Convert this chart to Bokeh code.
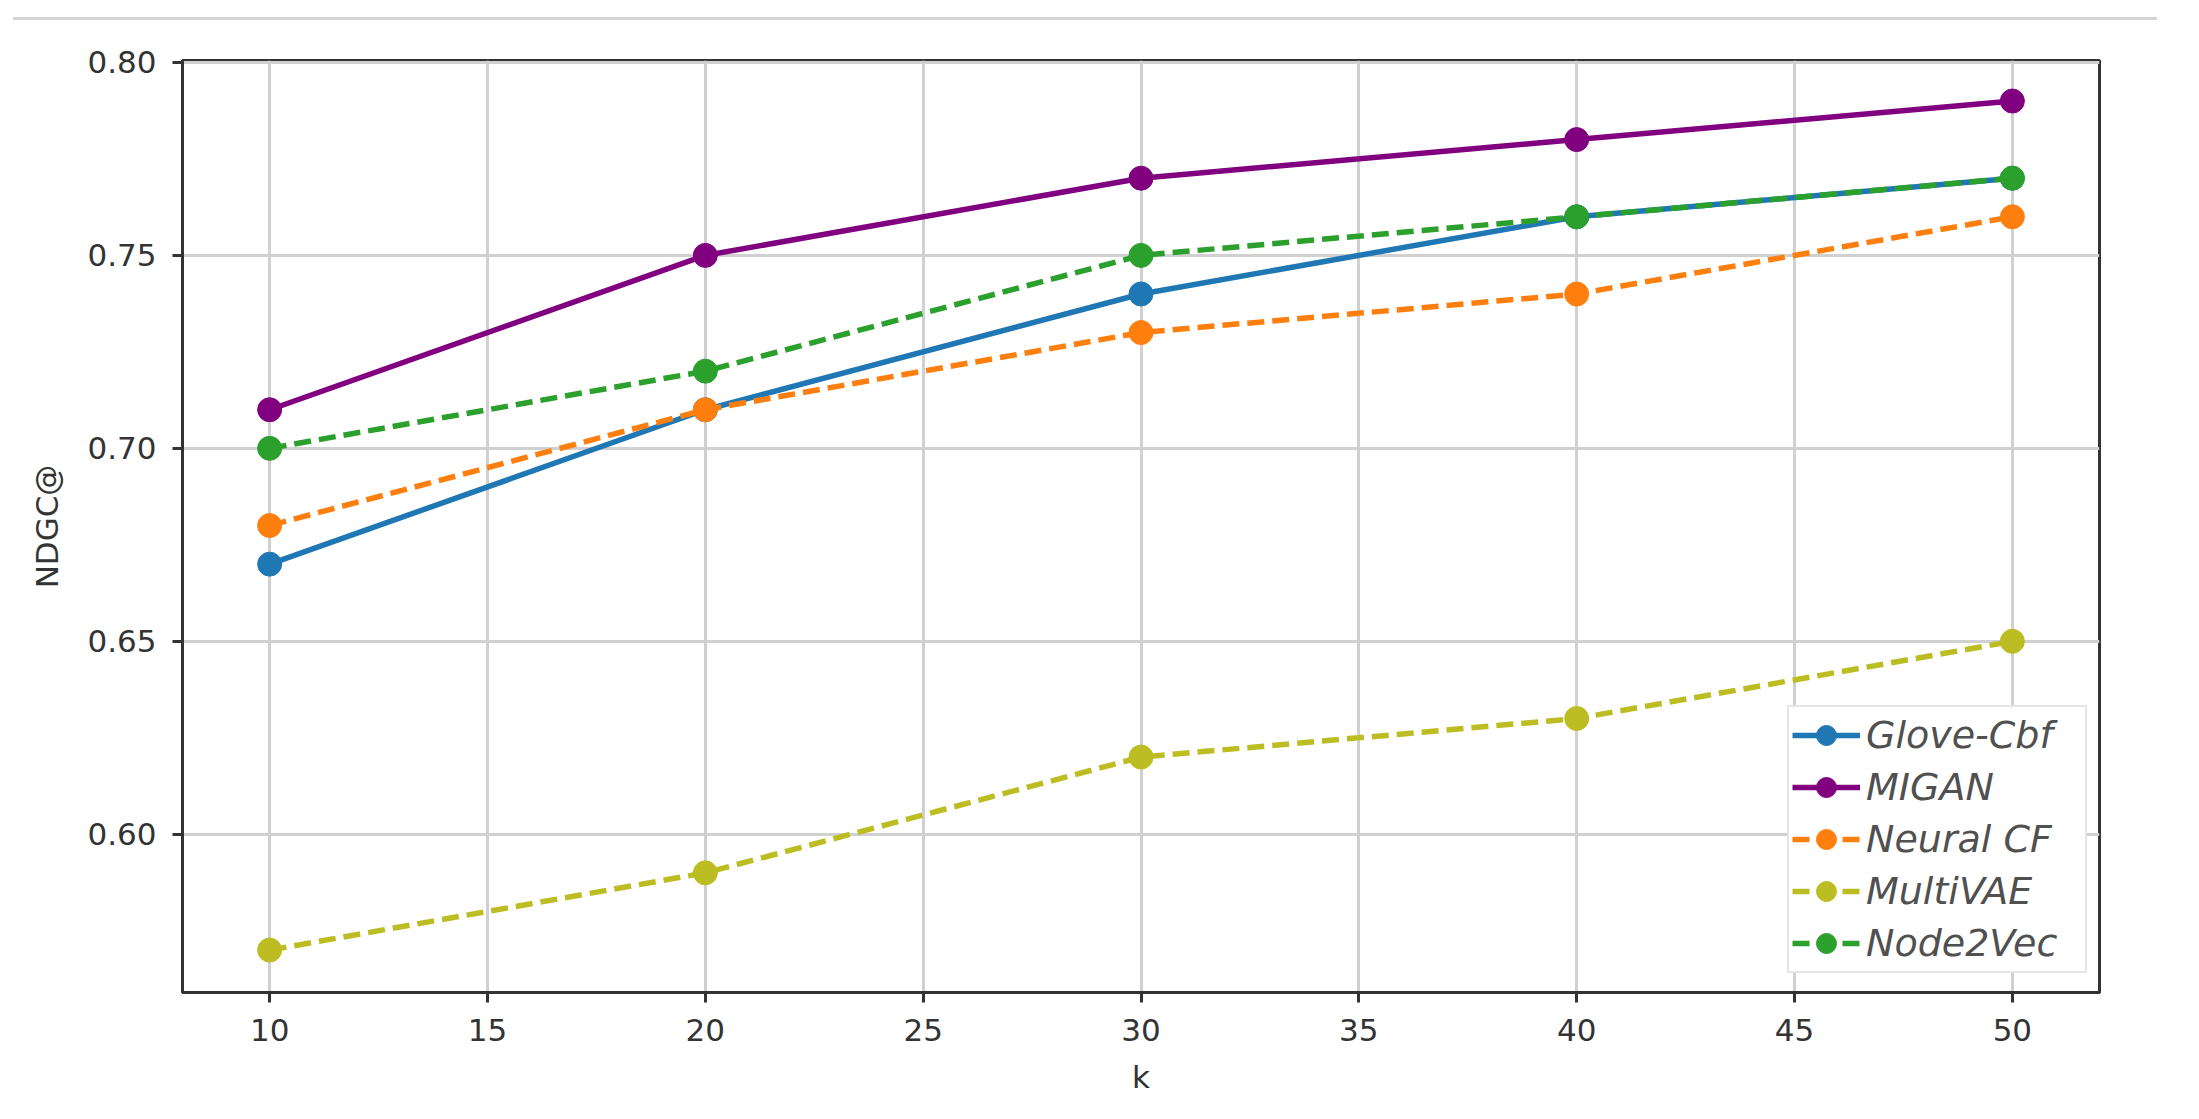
from bokeh.plotting import figure
from bokeh.models import Div, Legend, LegendItem, FixedTicker, NumeralTickFormatter, Range1d
from bokeh.layouts import column
from bokeh.embed import file_html
from bokeh.resources import INLINE

ks = [10, 20, 30, 40, 50]
names = ["Glove-Cbf", "MIGAN", "Neural CF", "MultiVAE", "Node2Vec"]
glove_cbf = [0.67, 0.71, 0.74, 0.76, 0.77]
migan = [0.71, 0.75, 0.77, 0.78, 0.79]
neural_cf = [0.68, 0.71, 0.73, 0.74, 0.76]
multivae = [0.57, 0.59, 0.62, 0.63, 0.65]
node2vec = [0.70, 0.72, 0.75, 0.76, 0.77]
series = [glove_cbf, migan, neural_cf, multivae, node2vec]
colors = ["#1f77b4", "#800080", "#ff7f0e", "#bcbd22", "#2ca02c"]
dashes = ["solid", "solid", "17 8", "17 8", "17 8"]
x_ticks = [10, 15, 20, 25, 30, 35, 40, 45, 50]
y_ticks = [0.60, 0.65, 0.70, 0.75, 0.80]

p = figure(frame_width=1917, frame_height=932,
           x_range=Range1d(8, 52), y_range=Range1d(0.559, 0.8005),
           output_backend="svg", toolbar_location=None,
           min_border_left=182, min_border_top=26, min_border_right=80, min_border_bottom=110,
           x_axis_label="k", y_axis_label="NDGC@")

p.outline_line_color = "#333333"
p.outline_line_width = 3
p.outline_line_alpha = 1

p.xaxis.ticker = FixedTicker(ticks=x_ticks)
p.yaxis.ticker = FixedTicker(ticks=y_ticks)
p.yaxis.formatter = NumeralTickFormatter(format="0.00")
p.xaxis.formatter = NumeralTickFormatter(format="0")

for ax in [p.xaxis[0], p.yaxis[0]]:
    ax.minor_tick_line_color = None
    ax.major_tick_in = 0
    ax.major_tick_out = 10
    ax.major_tick_line_width = 3
    ax.major_tick_line_color = "#333333"
    ax.axis_line_color = "#333333"
    ax.axis_line_width = 3
    ax.major_label_text_font = "DejaVu Sans"
    ax.major_label_text_font_size = "31px"
    ax.major_label_text_color = "#333333"
    ax.axis_label_text_font = "DejaVu Sans"
    ax.axis_label_text_font_size = "31px"
    ax.axis_label_text_font_style = "normal"
    ax.axis_label_text_color = "#333333"

p.xaxis.major_label_standoff = 16
p.yaxis.major_label_standoff = 16
p.xaxis.axis_label_standoff = 15
p.yaxis.axis_label_standoff = 19

p.xgrid.ticker = FixedTicker(ticks=x_ticks)
p.ygrid.ticker = FixedTicker(ticks=y_ticks)
p.grid.grid_line_color = "#d0d0d0"
p.grid.grid_line_width = 3

items = []
for name, vals, c, d in zip(names, series, colors, dashes):
    r1 = p.line(ks, vals, line_color=c, line_width=5.5, line_dash=d)
    r2 = p.scatter(ks, vals, size=24, fill_color=c, line_color=c)
    items.append(LegendItem(label=name, renderers=[r1, r2]))

legend = Legend(items=items, location=(1605, 19))
legend.label_text_font = "DejaVu Sans"
legend.label_text_font_style = "italic"
legend.label_text_font_size = "38px"
legend.label_text_color = "#505050"
legend.glyph_width = 68
legend.glyph_height = 50
legend.label_height = 50
legend.label_width = 216
legend.label_standoff = 6
legend.spacing = 2
legend.padding = 3
legend.margin = 0
legend.border_line_color = "#cccccc"
legend.border_line_width = 2
legend.background_fill_color = "white"
legend.background_fill_alpha = 1
p.add_layout(legend)

div = Div(text='<div style="margin-left:8px;margin-top:12px;width:2144px;height:3px;background:#d4d4d4"></div>',
          width=2183, height=24)

layout = column(div, p, spacing=0)
open("out.html", "w").write(file_html(layout, INLINE))
